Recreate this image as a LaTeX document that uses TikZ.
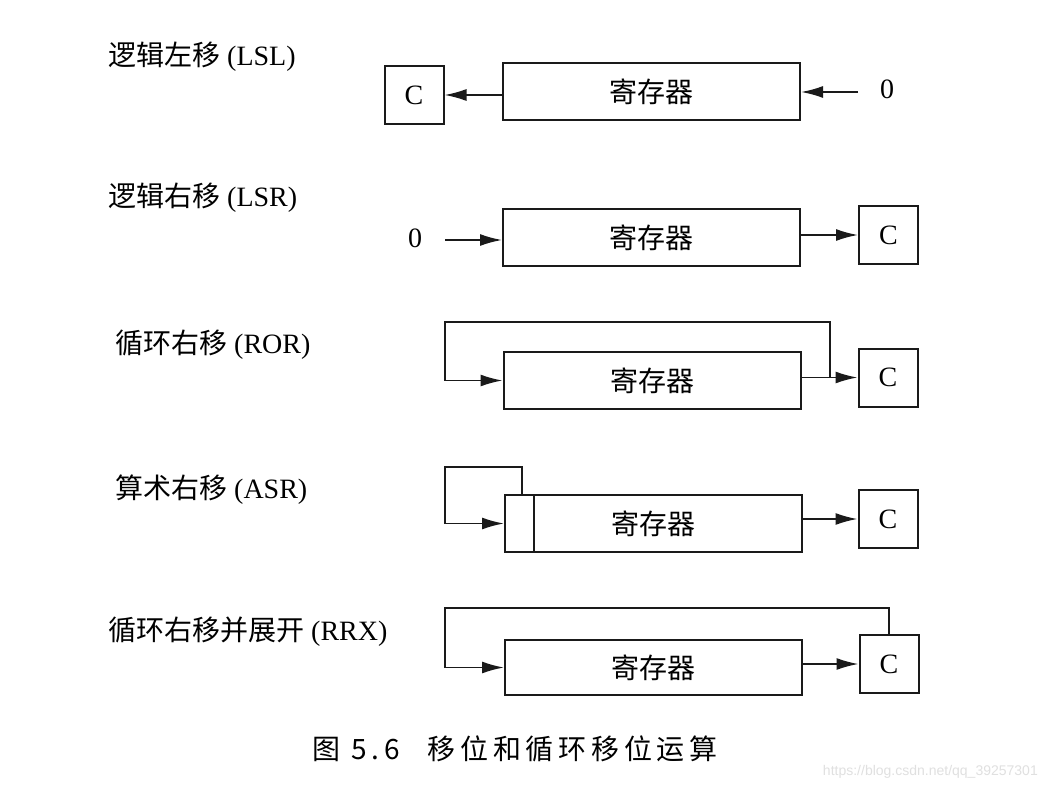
\documentclass[tikz,border=0pt]{standalone}
\usepackage{fontspec}
\setmainfont{Liberation Serif}
\newfontfamily\cjk{Noto Sans CJK SC}
\newfontfamily\capfont[LetterSpace=17]{Noto Sans CJK SC}
\newfontfamily\wmfont{Liberation Sans}
\usetikzlibrary{arrows.meta}
\definecolor{ink}{HTML}{1A1A1A}

\begin{document}
\begin{tikzpicture}[x=1pt,y=-1pt,>={Latex[length=22pt,width=12pt]},
font=\fontsize{28}{31}\selectfont,
reg/.style={draw=ink,line width=2pt,minimum width=297pt,minimum height=57pt,inner sep=0pt,font=\cjk\fontsize{28}{31}\selectfont},
cbox/.style={draw=ink,line width=2pt,minimum width=59pt,minimum height=58pt,inner sep=0pt},
lbl/.style={anchor=west,inner sep=0pt},
arr/.style={->,line width=1.8pt,draw=ink}]
\fill[white] (0,0) rectangle (1046,794);
\useasboundingbox (0,0) rectangle (1046,794);
\node[lbl] (t1) at (108,57) {{\cjk 逻辑左移} (LSL)};
\node[reg] (r1) at (651.5,92) {寄存器};
\node[cbox] (c1) at (414,95) {C};
\node (z1) at (887,89) {0};
\coordinate (i1) at (858,92);
\draw[arr] (r1.west |- c1) -- (c1.east);\draw[arr] (i1) -- (r1.east |- i1);
\node[lbl] (t2) at (108,198) {{\cjk 逻辑右移} (LSR)};
\node (z2) at (415,238) {0};
\coordinate (i2) at (445,240);
\node[reg] (r2) at (651.5,238) {寄存器};
\node[cbox] (c2) at (888.5,235) {C};
\draw[arr] (i2) -- (r2.west |- i2);\draw[arr] (r2.east |- c2) -- (c2.west);
\node[lbl] (t3) at (115,345) {{\cjk 循环右移} (ROR)};
\node[reg] (r3) at (652,380.5) {寄存器};
\node[cbox] (c3) at (888,377.5) {C};
\coordinate (k3) at (830,377.5);
\coordinate (u3) at (445,322);
\draw[arr] (r3.east |- c3) -- (c3.west);
\draw[arr] (k3) |- (u3) |- (r3.west);
\node[lbl] (t4) at (115,490) {{\cjk 算术右移} (ASR)};
\node[reg] (r4) at (653.5,523.5) {寄存器};
\draw[draw=ink,line width=2pt] ([xshift=30pt]r4.north west) -- ([xshift=30pt]r4.south west);
\node[cbox] (c4) at (888,519) {C};
\coordinate (u4) at (445,467);
\draw[arr] ([xshift=18pt]r4.north west) |- (u4) |- (r4.west);
\draw[arr] (r4.east |- c4) -- (c4.west);
\node[lbl] (t5) at (108,632) {{\cjk 循环右移并展开} (RRX)};
\node[reg,minimum height=55pt] (r5) at (653.5,667.5) {寄存器};
\node[cbox] (c5) at (889,664) {C};
\coordinate (u5) at (445,608);
\draw[arr] (r5.east |- c5) -- (c5.west);
\draw[arr] (c5.north) |- (u5) |- (r5.west);
\node[lbl,font=\capfont\fontsize{28}{31}\selectfont] (cap) at (312,749) {图 5.6\quad 移位和循环移位运算};
\node[anchor=east,inner sep=0pt,font=\wmfont\fontsize{14}{16}\selectfont,text=black!12] (wm) at (1038,772) {https://blog.csdn.net/qq\_39257301};
\end{tikzpicture}
\end{document}
